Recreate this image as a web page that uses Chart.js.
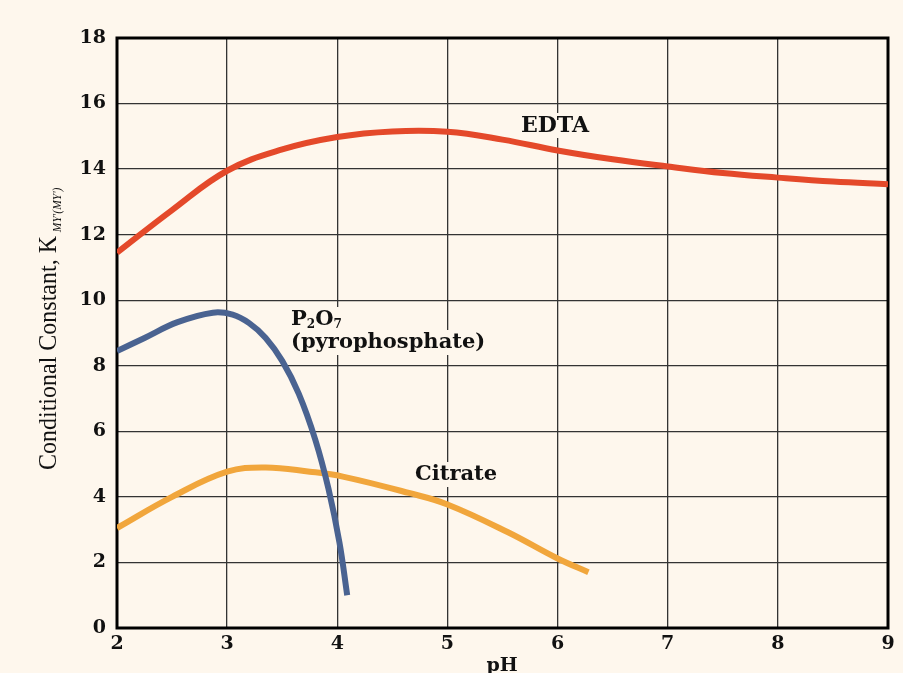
<!DOCTYPE html>
<html>
<head>
<meta charset="utf-8">
<script src="https://cdn.jsdelivr.net/npm/chart.js@4.4.0/dist/chart.umd.min.js"></script>
<style>
  html, body { margin: 0; padding: 0; background: #fef7ed; }
  #wrap { width: 903px; height: 673px; }
</style>
</head>
<body>
<div id="wrap"><canvas id="grafico"></canvas></div>
<script>
// datos
var phEdta = [2.0, 2.5, 3.0, 3.5, 4.0, 4.5, 5.0, 5.5, 6.0, 6.5, 7.0, 7.5, 8.0, 8.5, 9.0];
var kEdta = [11.45, 12.75, 13.95, 14.6, 14.98, 15.15, 15.14, 14.9, 14.57, 14.3, 14.08, 13.88, 13.74, 13.62, 13.54];

var phP2o7 = [2.0, 2.25, 2.55, 2.87, 3.05, 3.2, 3.35, 3.5, 3.65, 3.8, 3.92, 4.02, 4.09];
var kP2o7 = [8.45, 8.85, 9.33, 9.62, 9.56, 9.3, 8.85, 8.15, 7.15, 5.75, 4.25, 2.6, 1.0];

var phCitrate = [2.0, 2.5, 3.0, 3.35, 3.75, 4.05, 4.65, 5.0, 5.55, 6.0, 6.28];
var kCitrate = [3.05, 4.0, 4.77, 4.9, 4.77, 4.62, 4.12, 3.77, 2.92, 2.12, 1.7];

var xTicks = [2, 3, 4, 5, 6, 7, 8, 9];
var yTicks = [0, 2, 4, 6, 8, 10, 12, 14, 16, 18];

var fondo = "#fef7ed";
var serif = "'Liberation Serif', 'DejaVu Serif', serif";
var serifAncha = "'DejaVu Serif', 'Liberation Serif', serif";

function puntos(xs, ys) {
    return xs.map(function (x, i) { return { x: x, y: ys[i] }; });
}

// texto con caja de fondo (corta la rejilla como en el original)
function textoConFondo(ctx, partes, x, y) {
    var ancho = 0;
    partes.forEach(function (p) {
        ctx.font = p.font;
        ancho += ctx.measureText(p.t).width;
    });
    ctx.fillStyle = fondo;
    ctx.fillRect(x - 3, y - 13, ancho + 6, 25);
    var cx = x;
    partes.forEach(function (p) {
        ctx.font = p.font;
        ctx.fillStyle = "#111";
        ctx.textBaseline = "middle";
        ctx.textAlign = "left";
        ctx.fillText(p.t, cx, y + (p.dy || 0));
        cx += ctx.measureText(p.t).width;
    });
}

var anotaciones = {
    id: "anotaciones",
    beforeDraw: function (chart) {
        var ctx = chart.ctx;
        ctx.save();
        ctx.fillStyle = fondo;
        ctx.fillRect(0, 0, chart.width, chart.height);
        ctx.restore();
    },
    beforeDatasetsDraw: function (chart) {
        var ctx = chart.ctx;
        var a = chart.chartArea;
        ctx.save();
        var b = "bold 21px " + serifAncha;
        var s = "bold 12px " + serifAncha;
        textoConFondo(ctx, [{ t: "EDTA", font: "bold 22px " + serifAncha }], 521, 126);
        textoConFondo(ctx, [{ t: "P", font: b }, { t: "2", font: s, dy: 5 },
            { t: "O", font: b }, { t: "7", font: s, dy: 5 }], 291, 320);
        textoConFondo(ctx, [{ t: "(pyrophosphate)", font: b }], 291, 343);
        textoConFondo(ctx, [{ t: "Citrate", font: b }], 415, 475);

        // marco
        ctx.strokeStyle = "#000";
        ctx.lineWidth = 3;
        ctx.strokeRect(a.left, a.top, a.right - a.left, a.bottom - a.top);
        ctx.restore();
    },
    afterDraw: function (chart) {
        var ctx = chart.ctx;
        ctx.save();
        // titulo eje y
        ctx.translate(49, 470);
        ctx.rotate(-Math.PI / 2);
        ctx.scale(0.96, 1);
        ctx.fillStyle = "#111";
        ctx.textBaseline = "middle";
        ctx.textAlign = "left";
        ctx.font = "25px " + serif;
        var t = "Conditional Constant, K";
        ctx.fillText(t, 0, 0);
        var w = ctx.measureText(t).width;
        ctx.font = "italic 12px " + serif;
        ctx.fillText("MY'(MY')", w + 4, 9);
        ctx.restore();

        ctx.save();
        ctx.fillStyle = "#111";
        ctx.font = "bold 19px " + serifAncha;
        ctx.textAlign = "center";
        ctx.textBaseline = "middle";
        ctx.fillText("pH", 502, 666);
        ctx.restore();
    }
};

var ctx = document.getElementById("grafico").getContext("2d");
new Chart(ctx, {
    type: "line",
    data: {
        datasets: [{
            label: "EDTA",
            data: puntos(phEdta, kEdta),
            borderColor: "#e4492a",
            borderWidth: 6,
            tension: 0.4,
            pointRadius: 0
        }, {
            label: "P2O7",
            data: puntos(phP2o7, kP2o7),
            borderColor: "#4a6391",
            borderWidth: 6,
            tension: 0.4,
            pointRadius: 0
        }, {
            label: "Citrate",
            data: puntos(phCitrate, kCitrate),
            borderColor: "#f1a63c",
            borderWidth: 6,
            tension: 0.4,
            pointRadius: 0
        }]
    },
    options: {
        responsive: true,
        maintainAspectRatio: false,
        animation: false,
        layout: { padding: { left: 0, right: 15, top: 38, bottom: 0 } },
        plugins: { legend: { display: false }, tooltip: { enabled: false } },
        scales: {
            x: {
                type: "linear",
                min: 2,
                max: 9,
                afterBuildTicks: function (scale) {
                    scale.ticks = xTicks.map(function (v) { return { value: v }; });
                },
                afterFit: function (scale) { scale.height = 45; },
                grid: { color: "#333", lineWidth: 1.3, drawTicks: false },
                border: { display: false },
                ticks: {
                    padding: 5,
                    color: "#111",
                    font: { family: serifAncha, size: 19, weight: "bold" }
                }
            },
            y: {
                min: 0,
                max: 18,
                afterBuildTicks: function (scale) {
                    scale.ticks = yTicks.map(function (v) { return { value: v }; });
                },
                afterFit: function (scale) { scale.width = 117; },
                grid: { color: "#333", lineWidth: 1.3, drawTicks: false },
                border: { display: false },
                ticks: {
                    padding: 11,
                    color: "#111",
                    font: { family: serifAncha, size: 19, weight: "bold" }
                }
            }
        }
    },
    plugins: [anotaciones]
});
</script>
</body>
</html>
